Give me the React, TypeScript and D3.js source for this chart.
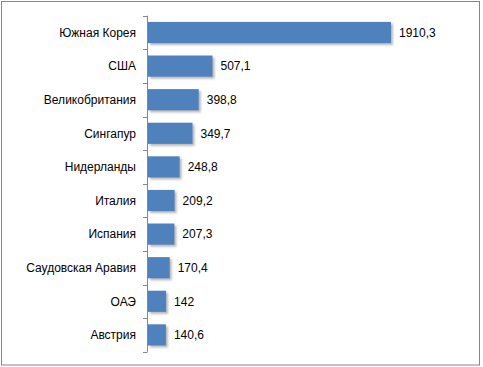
import React from "react";
import * as d3 from "d3";

const categories = ["Южная Корея", "США", "Великобритания", "Сингапур", "Нидерланды", "Италия", "Испания", "Саудовская Аравия", "ОАЭ", "Австрия"];
const values = [1910.3, 507.1, 398.8, 349.7, 248.8, 209.2, 207.3, 170.4, 142, 140.6];
const valueLabels = ["1910,3", "507,1", "398,8", "349,7", "248,8", "209,2", "207,3", "170,4", "142", "140,6"];

export default function App() {
  const W = 483, H = 367;
  const x = d3.scaleLinear().domain([0, 2500]).range([148, 466]);
  const y = d3.scaleBand<string>().domain(categories).range([15.7, 351.7]).paddingInner(0.37).paddingOuter(0.185);
  const bandStep = y.step();
  const ticks = d3.range(categories.length + 1).map(i => 15.7 + i * bandStep);
  const font = "Liberation Sans, Arial, sans-serif";
  return (
    <svg width={W} height={H} style={{ position: "absolute", left: 0, top: 0, background: "#fff" }}>
      <defs>
        <filter id="sh" x="-10%" y="-20%" width="130%" height="160%">
          <feGaussianBlur stdDeviation="1" />
        </filter>
      </defs>
      <rect x={1.5} y={1.5} width={478} height={363.5} fill="#fff" stroke="#868686" strokeWidth={1} />
      {categories.map((c, i) => (
        <g key={c}>
          <rect x={x(0) + 2} y={(y(c) as number) + 2} width={x(values[i]) - x(0)} height={y.bandwidth()} fill="#9a9a9a" opacity={0.7} filter="url(#sh)" />
          <rect x={x(0)} y={y(c)} width={x(values[i]) - x(0)} height={y.bandwidth()} fill="#4F81BD" />
          <text x={x(values[i]) + 8} y={(y(c) as number) + y.bandwidth() / 2} dy="0.35em" fontFamily={font} fontSize={12} fill="#000">{valueLabels[i]}</text>
          <text x={136} y={(y(c) as number) + y.bandwidth() / 2} dy="0.35em" textAnchor="end" fontFamily={font} fontSize={12} fill="#000">{c}</text>
        </g>
      ))}
      <line x1={147.5} x2={147.5} y1={ticks[0]} y2={ticks[ticks.length - 1]} stroke="#868686" />
      {ticks.map((t, i) => (
        <line key={i} x1={143} x2={147.5} y1={Math.round(t) + 0.5} y2={Math.round(t) + 0.5} stroke="#868686" />
      ))}
    </svg>
  );
}
